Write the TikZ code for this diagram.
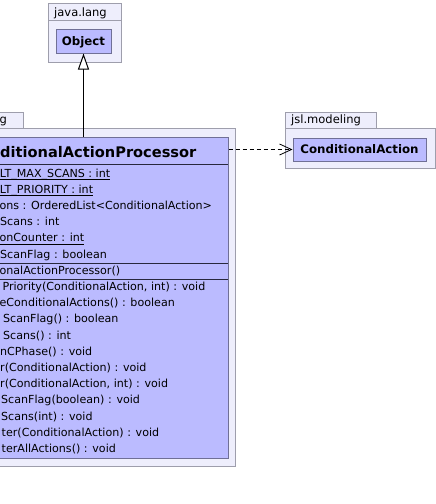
\documentclass[tikz,border=0pt]{standalone}
\usepackage{fontspec}
\setmainfont{DejaVu Sans}
\usetikzlibrary{arrows.meta}
\definecolor{pkgfill}{RGB}{238,238,252}
\definecolor{pkgline}{RGB}{158,158,172}
\definecolor{clsfill}{RGB}{187,187,255}
\definecolor{clsline}{RGB}{112,112,150}
\definecolor{sepline}{RGB}{40,40,60}
\newcommand\ulx[1]{\setbox0\hbox{#1}\rlap{\rule[-2.6pt]{\wd0}{0.8pt}}\box0}
\begin{document}
\begin{tikzpicture}[x=1pt,y=-1pt,
  pkg/.style={draw=pkgline, fill=pkgfill, line width=1pt},
  cls/.style={draw=clsline, fill=clsfill, line width=1pt, inner sep=0pt},
  sep/.style={draw=sepline, line width=0.9pt},
  mem/.style={anchor=base west, inner sep=0pt, font=\fontsize{11.1}{13}\selectfont},
  pkglabel/.style={anchor=base west, inner sep=0pt, font=\fontsize{11.5}{13}\selectfont},
  clsname/.style={anchor=base, inner sep=0pt, font=\bfseries\fontsize{11.8}{14}\selectfont},
  bigname/.style={anchor=base west, inner sep=0pt, font=\bfseries\fontsize{14.6}{17}\selectfont},
  gen/.style={draw=black, line width=1pt, -{Triangle[length=16pt, width=11pt, fill=white]}},
  dep/.style={draw=black, line width=0.8pt, dash pattern=on 4pt off 3pt, -{Straight Barb[length=12pt, width=11pt]}}
]
\useasboundingbox (0,0) rectangle (436,504);
\clip (0,0) rectangle (436,504);
% packages
\draw[pkg] (48,3) rectangle (121,20);
\draw[pkg] (48,20) rectangle (121,62);
\node[pkglabel] (pjava) at (54,16) {java.lang};
\draw[pkg] (-60,112) rectangle (23,128);
\draw[pkg] (-60,128) rectangle (235,466);
\node[pkglabel] (pleft) at (-0.5,123) {g};
\draw[pkg] (285,112) rectangle (376,128);
\draw[pkg] (285,128) rectangle (435,168);
\node[pkglabel] (pjsl) at (291,123) {jsl.modeling};
% classes
\node[cls, minimum width=55pt, minimum height=24pt] (object) at (83.5,41) {};
\node[clsname] (objectname) at (83.5,45.5) {Object};
\node[cls, minimum width=133pt, minimum height=23pt] (ca) at (359.5,149.5) {};
\node[clsname] (caname) at (359.5,153.5) {ConditionalAction};
\node[cls, minimum width=288pt, minimum height=321pt] (cap) at (84,297.5) {};
\node[bigname] (capname) at (0,157) {ditionalActionProcessor};
\draw[sep] (-60,164) -- (228,164);
\draw[sep] (-60,263) -- (228,263);
\draw[sep] (-60,279) -- (228,279);
% attributes
\node[mem] (a1) at (-0.3,177) {\ulx{LT\_MAX\_SCANS : int}};
\node[mem] (a2) at (-0.3,193.2) {\ulx{LT\_PRIORITY : int}};
\node[mem] (a3) at (-0.6,209.4) {ons : OrderedList<ConditionalAction>};
\node[mem] (a4) at (0,225.6) {Scans : int};
\node[mem] (a5) at (-0.6,241.8) {\ulx{onCounter : int}};
\node[mem] (a6) at (0,258) {ScanFlag : boolean};
% constructor
\node[mem] (c1) at (-0.6,274.5) {onalActionProcessor()};
% methods
\node[mem] (m1) at (2.3,290.5) {Priority(ConditionalAction, int) : void};
\node[mem] (m2) at (-0.6,306.7) {eConditionalActions() : boolean};
\node[mem] (m3) at (3,322.9) {ScanFlag() : boolean};
\node[mem] (m4) at (3,339.1) {Scans() : int};
\node[mem] (m5) at (0,355.3) {nCPhase() : void};
\node[mem] (m6) at (0,371.5) {r(ConditionalAction) : void};
\node[mem] (m7) at (0,387.7) {r(ConditionalAction, int) : void};
\node[mem] (m8) at (1,403.9) {ScanFlag(boolean) : void};
\node[mem] (m9) at (1,420.1) {Scans(int) : void};
\node[mem] (m10) at (1.5,436.3) {ter(ConditionalAction) : void};
\node[mem] (m11) at (1.5,452.5) {terAllActions() : void};
% connectors
\draw[gen] (object.south |- cap.north) -- (object.south);
\draw[dep] (ca.west -| cap.east) -- (ca.west);
\end{tikzpicture}
\end{document}
